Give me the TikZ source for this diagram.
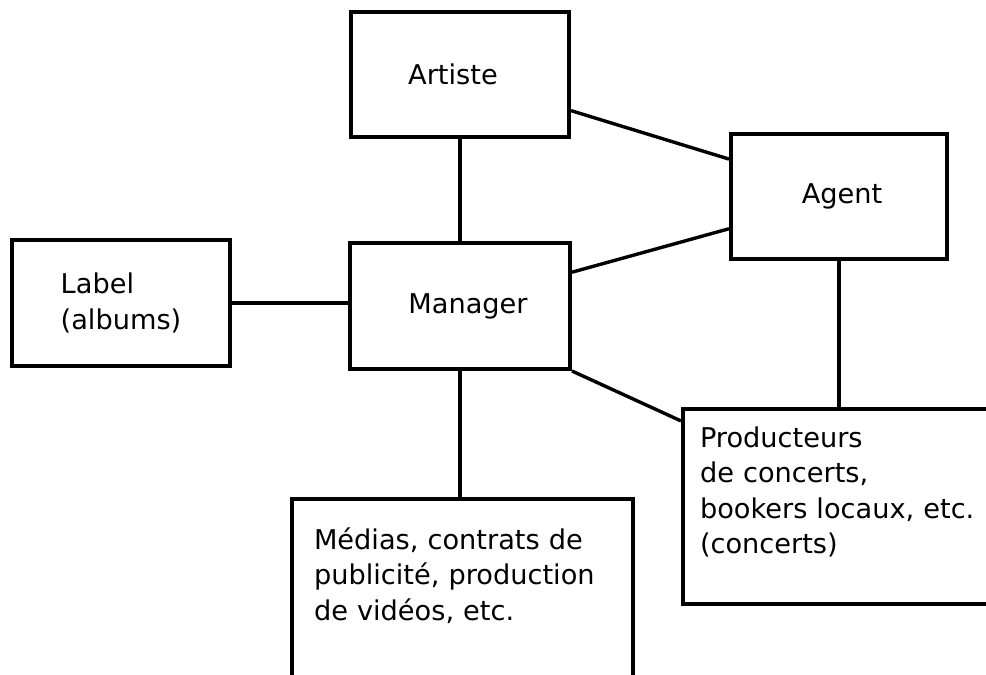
\documentclass[tikz,border=0pt]{standalone}
\usepackage{fontspec}
\setmainfont{DejaVu Sans}
\usetikzlibrary{calc}

\begin{document}
\begin{tikzpicture}[x=0.5pt,y=-0.5pt]
\tikzset{
  box/.style={draw, line width=2pt, rectangle, inner sep=0pt, font=\fontsize{13.6}{17.75}\selectfont},
  textbox/.style={box, anchor=north west, align=left, inner xsep=#1},
  link/.style={line width=1.7pt}
}
\useasboundingbox (0,0) rectangle (986,675);
\clip (0,0) rectangle (986,675);

\node[box, minimum width=109pt, minimum height=62.5pt] (artiste) at (460,74.5) {Artiste\hspace*{7pt}};
\node[box, minimum width=108pt, minimum height=62.5pt] (agent) at (839,196.5) {\hspace*{3pt}Agent};
\node[box, minimum width=109pt, minimum height=63pt, align=left] (label) at (121,303) {Label\\(albums)};
\node[box, minimum width=110pt, minimum height=63pt] (manager) at (460,306) {\hspace*{8pt}Manager};

% boites du bas, coupees par le cadre
\node[textbox=8.5pt, text width=148pt, text height=19pt, text depth=78.5pt] (prod) at (681,407)
  {Producteurs\\de concerts,\\bookers locaux, etc.\\(concerts)};
\node[textbox=11pt, text width=148.5pt, text height=25pt, text depth=90pt] (medias) at (290,497)
  {Médias, contrats de\\publicité, production\\de vidéos, etc.};

\draw[link] (artiste.south) -- (manager.north);
\draw[link] (label.east) -- (label.east -| manager.west);
\draw[link] ($(artiste.north east)!0.78!(artiste.south east)$) -- ($(agent.north west)!0.21!(agent.south west)$);
\draw[link] ($(manager.north east)!0.24!(manager.south east)$) -- ($(agent.north west)!0.75!(agent.south west)$);
\draw[link] (manager.south east) -- ($(prod.north west)!0.07!(prod.south west)$);
\draw[link] (manager.south) -- (manager.south |- medias.north);
\draw[link] (agent.south) -- (agent.south |- prod.north);
\end{tikzpicture}
\end{document}
